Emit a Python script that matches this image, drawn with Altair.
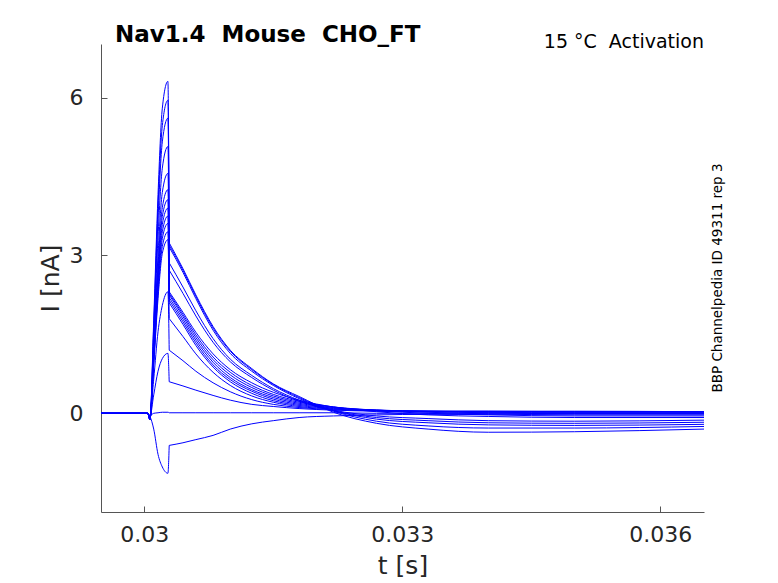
import altair as alt
import pandas as pd

# ---- data ----
# common time grid [s]
t_s = [0.029497, 0.03004, 0.030066, 0.03011, 0.03016, 0.03021, 0.030275, 0.03029,
       0.03045, 0.0306, 0.0308, 0.031, 0.03125, 0.0315, 0.0318, 0.0322, 0.0327,
       0.0333, 0.034, 0.035, 0.036508]
STEP_IDX = 7  # index of the first tail sample (end of the test pulse)

# current traces [nA]
tr01 = [0, 0, -0.12, 1.77, 4.16, 5.80, 6.31, 3.24, 2.75, 2.25, 1.65, 1.20, 0.85, 0.56, 0.32, 0.02, -0.19, -0.30, -0.36, -0.35, -0.30]
tr02 = [0, 0, -0.12, 1.67, 3.93, 5.47, 5.95, 3.20, 2.72, 2.22, 1.62, 1.18, 0.83, 0.55, 0.30, 0.04, -0.15, -0.24, -0.28, -0.28, -0.25]
tr03 = [0, 0, -0.12, 1.57, 3.70, 5.16, 5.61, 3.16, 2.68, 2.18, 1.58, 1.14, 0.80, 0.53, 0.28, 0.05, -0.11, -0.18, -0.22, -0.23, -0.21]
tr04 = [0, 0, -0.12, 1.42, 3.35, 4.66, 5.07, 2.86, 2.40, 1.95, 1.42, 1.03, 0.72, 0.47, 0.25, 0.05, -0.08, -0.14, -0.18, -0.19, -0.17]
tr05 = [0, 0, -0.12, 1.28, 3.01, 4.20, 4.56, 2.72, 2.28, 1.85, 1.35, 0.98, 0.68, 0.44, 0.23, 0.06, -0.05, -0.10, -0.14, -0.15, -0.13]
tr06 = [0, 0, -0.12, 1.19, 2.81, 3.91, 4.25, 2.31, 1.92, 1.54, 1.13, 0.83, 0.58, 0.40, 0.25, 0.12, 0.03, -0.03, -0.06, -0.08, -0.08]
tr07 = [0, 0, -0.12, 1.14, 2.68, 3.74, 4.06, 2.28, 1.88, 1.49, 1.07, 0.78, 0.53, 0.36, 0.23, 0.12, 0.05, 0.00, -0.03, -0.05, -0.05]
tr08 = [0, 0, -0.10, 1.09, 2.57, 3.59, 3.90, 2.25, 1.84, 1.44, 1.02, 0.73, 0.49, 0.33, 0.21, 0.12, 0.06, 0.02, -0.01, -0.03, -0.03]
tr09 = [0, 0, -0.10, 1.05, 2.48, 3.45, 3.75, 2.20, 1.79, 1.39, 0.97, 0.68, 0.45, 0.30, 0.19, 0.11, 0.06, 0.03, 0.01, -0.01, -0.01]
tr10 = [0, 0, -0.10, 1.01, 2.38, 3.32, 3.61, 2.15, 1.74, 1.34, 0.92, 0.64, 0.42, 0.27, 0.17, 0.10, 0.06, 0.04, 0.02, 0.01, 0.01]
tr11 = [0, 0, -0.10, 0.97, 2.28, 3.17, 3.45, 2.10, 1.69, 1.29, 0.88, 0.60, 0.38, 0.24, 0.15, 0.09, 0.06, 0.04, 0.03, 0.02, 0.02]
tr12 = [0, 0, -0.10, 0.92, 2.18, 3.04, 3.30, 1.80, 1.46, 1.13, 0.78, 0.53, 0.33, 0.21, 0.13, 0.08, 0.05, 0.04, 0.04, 0.03, 0.03]
tr13 = [0, 0, -0.08, 0.65, 1.55, 2.05, 2.31, 1.20, 1.00, 0.80, 0.58, 0.41, 0.26, 0.17, 0.11, 0.07, 0.05, 0.04, 0.04, 0.04, 0.03]
tr14 = [0, 0, -0.06, 0.35, 0.80, 1.04, 1.14, 0.60, 0.52, 0.44, 0.34, 0.25, 0.17, 0.13, 0.09, 0.06, 0.04, 0.03, 0.03, 0.03, 0.03]
tr15 = [0, 0, -0.04, 0.00, 0.01, 0.02, 0.02, 0.01, 0.01, 0.01, 0.01, 0.01, 0.01, 0.01, 0.01, 0.01, 0.00, 0.00, 0.00, 0.00, 0.00]
tr16 = [0, 0, -0.06, -0.30, -0.78, -1.02, -1.14, -0.61, -0.56, -0.50, -0.42, -0.30, -0.20, -0.14, -0.08, -0.05, -0.03, -0.02, -0.02, -0.01, -0.01]

traces = [tr01, tr02, tr03, tr04, tr05, tr06, tr07, tr08,
          tr09, tr10, tr11, tr12, tr13, tr14, tr15, tr16]

x_ticks = [0.03, 0.033, 0.036]
y_ticks = [0, 3, 6]
x_domain = [0.029497, 0.036508]
y_domain = [-1.876, 7.02]

NB = "\u00a0"  # keeps the doubled spaces of the original visible in SVG
title_txt = "Nav1.4" + NB + " Mouse" + NB + " CHO_FT"
cond_txt = "15 °C" + NB + " Activation"
id_txt = "BBP Channelpedia ID 49311 rep 3"

# ---- build table: each trace drawn as pulse part + tail part (sharing the step sample) ----
rows = []
for k, tr in enumerate(traces):
    for i, (t, v) in enumerate(zip(t_s, tr)):
        if i <= STEP_IDX:
            rows.append({"seg": f"s{k:02d}a", "t": t, "I": v})
        if i >= STEP_IDX:
            rows.append({"seg": f"s{k:02d}b", "t": t, "I": v})
df = pd.DataFrame(rows)

W, H = 603, 468
FONT = "DejaVu Sans"
AX = "#262626"
DOM = "#555555"

xs = alt.Scale(domain=x_domain, nice=False, zero=False)
ys = alt.Scale(domain=y_domain, nice=False, zero=False)

lines = alt.Chart(df).mark_line(
    color="#0000ff", strokeWidth=1.0, interpolate="monotone", clip=True
).encode(
    x=alt.X("t:Q", scale=xs, axis=alt.Axis(
        values=x_ticks, format=".3~f", title="t [s]", ticks=False, tickSize=0,
        labelFontSize=22, labelPadding=12, labelColor=AX, labelFont=FONT,
        labelFlush=False, labelOverlap=False,
        titleFontSize=25, titleFontWeight="normal", titleFont=FONT, titleColor=AX,
        titleY=61, titleBaseline="alphabetic",
        grid=False, domainColor=DOM, domainWidth=1)),
    y=alt.Y("I:Q", scale=ys, axis=alt.Axis(
        values=y_ticks, format="d", title="I [nA]", ticks=False, tickSize=0,
        labelFontSize=22, labelPadding=18, labelColor=AX, labelFont=FONT,
        labelOverlap=False,
        titleFontSize=25, titleFontWeight="normal", titleFont=FONT, titleColor=AX,
        titleX=-43, titleY=H / 2, titleAngle=270, titleAlign="center",
        titleBaseline="alphabetic",
        grid=False, domainColor=DOM, domainWidth=1)),
    detail="seg:N",
)

# inward tick marks (axis shifted into the plot)
tick_layer = alt.Chart(df).mark_line(opacity=0).encode(
    x=alt.X("t:Q", scale=xs, axis=alt.Axis(
        values=x_ticks, orient="bottom", offset=-6, ticks=True, tickSize=6,
        tickColor=DOM, tickWidth=1, labels=False, domain=False, grid=False, title=None)),
    y=alt.Y("I:Q", scale=ys, axis=alt.Axis(
        values=y_ticks, orient="left", offset=-6, ticks=True, tickSize=6,
        tickColor=DOM, tickWidth=1, labels=False, domain=False, grid=False, title=None)),
    detail="seg:N",
)

txt_df = pd.DataFrame({"title": [title_txt], "cond": [cond_txt], "id": [id_txt]})

title_mark = alt.Chart(txt_df).mark_text(
    align="left", baseline="alphabetic", font=FONT, fontSize=23,
    fontWeight="bold", color="black"
).encode(x=alt.value(14), y=alt.value(-2.5), text="title:N")

cond_mark = alt.Chart(txt_df).mark_text(
    align="right", baseline="alphabetic", font=FONT, fontSize=19, color="black"
).encode(x=alt.value(W), y=alt.value(4), text="cond:N")

id_mark = alt.Chart(txt_df).mark_text(
    align="center", baseline="middle", font=FONT, fontSize=13.5, color="black",
    angle=270
).encode(x=alt.value(617), y=alt.value(H / 2), text="id:N")

chart = alt.layer(lines, tick_layer, title_mark, cond_mark, id_mark).resolve_axis(
    x="independent", y="independent"
).properties(
    width=W, height=H,
    autosize=alt.AutoSizeParams(type="none"),
    padding={"left": 93, "top": 36, "right": 40, "bottom": 68},
).configure(font=FONT).configure_view(stroke=None)

chart.save("out.html", embed_options={"renderer": "svg", "actions": False})
